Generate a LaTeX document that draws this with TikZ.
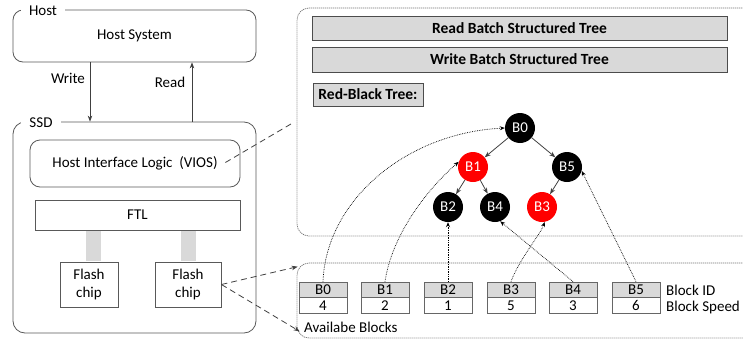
\documentclass[tikz,border=0pt]{standalone}
\usepackage{fontspec}
\setmainfont{Carlito}
\usetikzlibrary{arrows.meta,calc}
\begin{document}
\begin{tikzpicture}[x=1pt,y=-1pt,
  every node/.style={font=\fontsize{15}{18}\selectfont},
  box/.style={draw=black!65, line width=0.8pt, rectangle, inner sep=0pt},
  rbox/.style={box, rounded corners=10pt},
  lbl/.style={fill=white, inner xsep=8pt, inner ysep=1pt},
  bar/.style={draw=black!70, fill=black!15, line width=0.8pt, font=\fontsize{15.5}{18}\selectfont\bfseries, inner sep=0pt},
  dotbox/.style={draw=black!55, dash pattern=on 1.2pt off 0.8pt, line width=0.7pt, rounded corners=12pt, inner sep=0pt},
  tnode/.style={circle, minimum size=30pt, inner sep=0pt, text=white},
  tedge/.style={draw=black!75, line width=0.8pt, -{Stealth[length=6pt,width=4.5pt]}},
  link/.style={densely dotted, line width=0.7pt, -{Stealth[length=5pt,width=4pt]}},
  dlink/.style={draw=black!75, dash pattern=on 6pt off 4pt, line width=0.8pt},
  harrow/.style={draw=black!75, line width=0.8pt, -{Stealth[length=6pt,width=4.5pt]}},
  idcell/.style={draw=black!60, fill=black!15, minimum width=48pt, minimum height=15pt, inner sep=0pt, line width=0.8pt},
  spcell/.style={draw=black!60, fill=white, minimum width=48pt, minimum height=16pt, inner sep=0pt, line width=0.8pt},
  conn/.style={draw=black!15, line width=15pt},
]
\useasboundingbox (0,0) rectangle (743,340);

% ---------- left side ----------
\node[rbox, minimum width=243pt, minimum height=52pt] (host) at (134.5,36) {Host System};
\node[lbl] (hostlbl) at (43,11) {Host};
\node[rbox, rounded corners=12pt, minimum width=243pt, minimum height=211pt] (ssd) at (134.5,227.5) {};
\node[lbl] (ssdlbl) at (41,123) {SSD};

\coordinate (wx) at (90,0);
\coordinate (rx) at (192,0);
\draw[harrow] (host.south -| wx) -- (ssd.north -| wx);
\draw[harrow] (ssd.north -| rx) -- (host.south -| rx);
\node (wlbl) at (68,78) {Write};
\node (rlbl) at (170,82) {Read};

\node[rbox, minimum width=210pt, minimum height=47pt] (vios) at (135,163.5) {Host Interface Logic\ \ (VIOS)};
\node[box, minimum width=205pt, minimum height=30pt] (ftl) at (137.5,215) {FTL};
\node[box, minimum width=58pt, minimum height=45pt, align=center] (fc1) at (89,284.5) {Flash\\chip};
\node[box, minimum width=66pt, minimum height=45pt, align=center] (fc2) at (188,284.5) {Flash\\chip};

\coordinate (c1x) at (93.5,0);
\coordinate (c2x) at (188.5,0);
\draw[conn] ([yshift=-0.4pt]ftl.south -| c1x) -- ([yshift=0.4pt]fc1.north -| c1x);
\draw[conn] ([yshift=-0.4pt]ftl.south -| c2x) -- ([yshift=0.4pt]fc2.north -| c2x);

% ---------- right side ----------
\node[dotbox, minimum width=463pt, minimum height=228pt] (top) at (528.5,122) {};
\node[dotbox, minimum width=463pt, minimum height=75pt] (bot) at (528.5,300.5) {};

\node[bar, minimum width=415pt, minimum height=24pt] (rbst) at (519.5,28) {Read Batch Structured Tree};
\node[bar, minimum width=415pt, minimum height=25pt] (wbst) at (519.5,59.5) {Write Batch Structured Tree};
\node[bar, minimum width=110pt, minimum height=23pt] (rbt) at (368,94.5) {Red-Black Tree:};

\node[tnode, fill=black] (b0) at (520,128) {B0};
\node[tnode, fill=red] (b1) at (473,167) {B1};
\node[tnode, fill=black] (b5) at (567,167) {B5};
\node[tnode, fill=black] (b2) at (448,207) {B2};
\node[tnode, fill=black] (b4) at (495,207) {B4};
\node[tnode, fill=red] (b3) at (542,207) {B3};

\draw[tedge] (b0) -- (b1);
\draw[tedge] (b0) -- (b5);
\draw[tedge] (b1) -- (b2);
\draw[tedge] (b1) -- (b4);
\draw[tedge] (b5) -- (b3);

% blocks
\foreach \n/\x/\s in {0/323/4, 1/385/2, 2/448/1, 3/511/5, 4/573/3, 5/636/6} {
  \node[idcell] (id\n) at (\x,289.5) {B\n};
  \node[spcell, anchor=north] (sp\n) at (id\n.south) {\s};
}
\node[anchor=west, inner sep=0pt] (bidl) at (666,290) {Block ID};
\node[anchor=west, inner sep=0pt] (bspl) at (666,307) {Block Speed};
\node[anchor=west, inner sep=0pt] (avl) at (304,327) {Availabe Blocks};

% links from blocks to tree
\draw[link] (id0.north) .. controls +(3,-80) and +(-100,5) .. (b0.west);
\draw[link] (id1.north) .. controls +(7,-47) and +(-32,28) .. (b1.160);
\draw[link] (id2.north) -- (b2.south);
\draw[link] (id3.north) .. controls +(8,-22) and +(-4,12) .. (b3.-80);
\draw[link] (id4.north) -- (b4.-70);
\draw[link] (id5.north) -- (b5.-15);

% dashed zoom lines
\draw[dlink] ($(vios.east)+(-15,-1)$) -- ($(top.west)+(-4,1)$);
\draw[dlink, -{Stealth[length=6pt,width=4.5pt]}] (fc2.east) -- ($(bot.north west)+(1,4)$);
\draw[dlink, -{Stealth[length=6pt,width=4.5pt]}] (fc2.east) -- ($(bot.south west)+(3,-7)$);
\end{tikzpicture}
\end{document}
